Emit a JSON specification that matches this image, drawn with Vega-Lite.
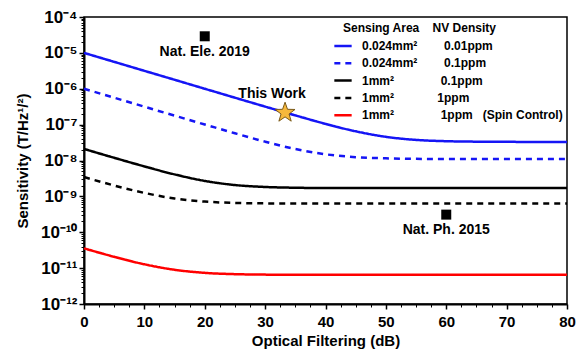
{
  "$schema": "https://vega.github.io/schema/vega-lite/v6.json",
  "width": 483,
  "height": 287,
  "autosize": "none",
  "padding": {"left": 84, "top": 17, "right": 16, "bottom": 48},
  "background": "white",
  "config": {
    "font": "Liberation Sans",
    "view": {"stroke": "black", "strokeWidth": 1.5}
  },
  "datasets": {
    "curves": [
      {"series": "0.024mm² / 0.01ppm", "x": 0, "y": 1.0e-5},
      {"series": "0.024mm² / 0.01ppm", "x": 5, "y": 5.62e-6},
      {"series": "0.024mm² / 0.01ppm", "x": 10, "y": 3.16e-6},
      {"series": "0.024mm² / 0.01ppm", "x": 15, "y": 1.78e-6},
      {"series": "0.024mm² / 0.01ppm", "x": 20, "y": 1.0e-6},
      {"series": "0.024mm² / 0.01ppm", "x": 25, "y": 5.63e-7},
      {"series": "0.024mm² / 0.01ppm", "x": 30, "y": 3.18e-7},
      {"series": "0.024mm² / 0.01ppm", "x": 35, "y": 1.81e-7},
      {"series": "0.024mm² / 0.01ppm", "x": 40, "y": 1.05e-7},
      {"series": "0.024mm² / 0.01ppm", "x": 45, "y": 6.52e-8},
      {"series": "0.024mm² / 0.01ppm", "x": 50, "y": 4.57e-8},
      {"series": "0.024mm² / 0.01ppm", "x": 55, "y": 3.75e-8},
      {"series": "0.024mm² / 0.01ppm", "x": 60, "y": 3.45e-8},
      {"series": "0.024mm² / 0.01ppm", "x": 65, "y": 3.35e-8},
      {"series": "0.024mm² / 0.01ppm", "x": 70, "y": 3.31e-8},
      {"series": "0.024mm² / 0.01ppm", "x": 75, "y": 3.3e-8},
      {"series": "0.024mm² / 0.01ppm", "x": 80, "y": 3.3e-8},

      {"series": "0.024mm² / 0.1ppm", "x": 0, "y": 1.0e-6},
      {"series": "0.024mm² / 0.1ppm", "x": 5, "y": 5.62e-7},
      {"series": "0.024mm² / 0.1ppm", "x": 10, "y": 3.16e-7},
      {"series": "0.024mm² / 0.1ppm", "x": 15, "y": 1.78e-7},
      {"series": "0.024mm² / 0.1ppm", "x": 20, "y": 1.01e-7},
      {"series": "0.024mm² / 0.1ppm", "x": 25, "y": 5.73e-8},
      {"series": "0.024mm² / 0.1ppm", "x": 30, "y": 3.35e-8},
      {"series": "0.024mm² / 0.1ppm", "x": 35, "y": 2.09e-8},
      {"series": "0.024mm² / 0.1ppm", "x": 40, "y": 1.49e-8},
      {"series": "0.024mm² / 0.1ppm", "x": 45, "y": 1.24e-8},
      {"series": "0.024mm² / 0.1ppm", "x": 50, "y": 1.15e-8},
      {"series": "0.024mm² / 0.1ppm", "x": 55, "y": 1.11e-8},
      {"series": "0.024mm² / 0.1ppm", "x": 60, "y": 1.1e-8},
      {"series": "0.024mm² / 0.1ppm", "x": 70, "y": 1.1e-8},
      {"series": "0.024mm² / 0.1ppm", "x": 80, "y": 1.1e-8},

      {"series": "1mm² / 0.1ppm", "x": 0, "y": 2.1e-8},
      {"series": "1mm² / 0.1ppm", "x": 5, "y": 1.19e-8},
      {"series": "1mm² / 0.1ppm", "x": 10, "y": 6.85e-9},
      {"series": "1mm² / 0.1ppm", "x": 15, "y": 4.1e-9},
      {"series": "1mm² / 0.1ppm", "x": 20, "y": 2.7e-9},
      {"series": "1mm² / 0.1ppm", "x": 25, "y": 2.07e-9},
      {"series": "1mm² / 0.1ppm", "x": 30, "y": 1.83e-9},
      {"series": "1mm² / 0.1ppm", "x": 35, "y": 1.74e-9},
      {"series": "1mm² / 0.1ppm", "x": 40, "y": 1.71e-9},
      {"series": "1mm² / 0.1ppm", "x": 50, "y": 1.7e-9},
      {"series": "1mm² / 0.1ppm", "x": 60, "y": 1.7e-9},
      {"series": "1mm² / 0.1ppm", "x": 70, "y": 1.7e-9},
      {"series": "1mm² / 0.1ppm", "x": 80, "y": 1.7e-9},

      {"series": "1mm² / 1ppm", "x": 0, "y": 3.46e-9},
      {"series": "1mm² / 1ppm", "x": 5, "y": 2.01e-9},
      {"series": "1mm² / 1ppm", "x": 10, "y": 1.25e-9},
      {"series": "1mm² / 1ppm", "x": 15, "y": 8.73e-10},
      {"series": "1mm² / 1ppm", "x": 20, "y": 7.16e-10},
      {"series": "1mm² / 1ppm", "x": 25, "y": 6.58e-10},
      {"series": "1mm² / 1ppm", "x": 30, "y": 6.39e-10},
      {"series": "1mm² / 1ppm", "x": 35, "y": 6.33e-10},
      {"series": "1mm² / 1ppm", "x": 40, "y": 6.31e-10},
      {"series": "1mm² / 1ppm", "x": 50, "y": 6.3e-10},
      {"series": "1mm² / 1ppm", "x": 60, "y": 6.3e-10},
      {"series": "1mm² / 1ppm", "x": 70, "y": 6.3e-10},
      {"series": "1mm² / 1ppm", "x": 80, "y": 6.3e-10},

      {"series": "1mm² / 1ppm (Spin Control)", "x": 0, "y": 3.56e-11},
      {"series": "1mm² / 1ppm (Spin Control)", "x": 5, "y": 2.07e-11},
      {"series": "1mm² / 1ppm (Spin Control)", "x": 10, "y": 1.28e-11},
      {"series": "1mm² / 1ppm (Spin Control)", "x": 15, "y": 9.0e-12},
      {"series": "1mm² / 1ppm (Spin Control)", "x": 20, "y": 7.38e-12},
      {"series": "1mm² / 1ppm (Spin Control)", "x": 25, "y": 6.79e-12},
      {"series": "1mm² / 1ppm (Spin Control)", "x": 30, "y": 6.59e-12},
      {"series": "1mm² / 1ppm (Spin Control)", "x": 35, "y": 6.53e-12},
      {"series": "1mm² / 1ppm (Spin Control)", "x": 40, "y": 6.51e-12},
      {"series": "1mm² / 1ppm (Spin Control)", "x": 50, "y": 6.5e-12},
      {"series": "1mm² / 1ppm (Spin Control)", "x": 60, "y": 6.5e-12},
      {"series": "1mm² / 1ppm (Spin Control)", "x": 70, "y": 6.5e-12},
      {"series": "1mm² / 1ppm (Spin Control)", "x": 80, "y": 6.5e-12}
    ],
    "refs": [
      {"label": "Nat. Ele. 2019", "x": 20, "y": 2.9e-5, "kind": "ref"},
      {"label": "Nat. Ph. 2015", "x": 60, "y": 3.1e-10, "kind": "ref"},
      {"label": "This Work", "x": 33.3, "y": 2.15e-7, "kind": "this"}
    ]
  },
  "resolve": {"axis": {"x": "independent", "y": "independent"}},
  "layer": [
    {
      "data": {"name": "curves"},
      "mark": {"type": "line", "strokeWidth": 2.5, "interpolate": "monotone"},
      "encoding": {
        "x": {
          "field": "x",
          "type": "quantitative",
          "scale": {"domain": [0, 80], "nice": false, "zero": false},
          "axis": {
            "orient": "bottom",
            "values": [0, 10, 20, 30, 40, 50, 60, 70, 80],
            "grid": false,
            "domainColor": "black",
            "domainWidth": 2,
            "tickColor": "black",
            "tickWidth": 1.5,
            "tickSize": 5,
            "labelFontSize": 15,
            "labelFontWeight": "bold",
            "labelColor": "black",
            "labelPadding": 5,
            "labelFlush": false,
            "labelOverlap": false,
            "title": "Optical Filtering (dB)",
            "titleFontSize": 15,
            "titleFontWeight": "bold",
            "titleColor": "black",
            "titlePadding": 4
          }
        },
        "y": {
          "field": "y",
          "type": "quantitative",
          "scale": {"type": "log", "domain": [1e-12, 1e-4], "nice": false},
          "axis": {
            "orient": "left",
            "values": [1e-12, 1e-11, 1e-10, 1e-9, 1e-8, 1e-7, 1e-6, 1e-5, 1e-4],
            "labelExpr": "'10' + ['⁻¹²', '⁻¹¹', '⁻¹⁰', '⁻⁹', '⁻⁸', '⁻⁷', '⁻⁶', '⁻⁵', '⁻⁴'][round(log(datum.value) / LN10) + 12]",
            "grid": false,
            "domainColor": "black",
            "domainWidth": 2,
            "tickColor": "black",
            "tickWidth": 1.5,
            "tickSize": 5,
            "labelFontSize": 17,
            "labelFontWeight": "bold",
            "labelColor": "black",
            "labelPadding": 2,
            "labelOverlap": false,
            "labelFlush": false,
            "title": "Sensitivity (T/Hz¹/²)",
            "titleFontSize": 15,
            "titleFontWeight": "bold",
            "titleColor": "black",
            "titlePadding": 10
          }
        },
        "color": {
          "field": "series",
          "type": "nominal",
          "scale": {
            "domain": ["0.024mm² / 0.01ppm", "0.024mm² / 0.1ppm", "1mm² / 0.1ppm", "1mm² / 1ppm", "1mm² / 1ppm (Spin Control)"],
            "range": ["#1515F5", "#1515F5", "#000000", "#000000", "#FF0000"]
          },
          "legend": {
            "orient": "none",
            "legendX": 249,
            "legendY": 6,
            "title": "\u200b\u00a0\u00a0\u00a0Sensing Area\u00a0\u00a0\u00a0\u00a0NV Density",
            "titleFontSize": 12,
            "titleFontWeight": "bold",
            "titleColor": "black",
            "titleLimit": 300,
            "titlePadding": 1,
            "labelFontSize": 12,
            "labelFontWeight": "bold",
            "labelColor": "black",
            "labelLimit": 300,
            "labelOffset": 9,
            "symbolType": "stroke",
            "symbolSize": 300,
            "symbolStrokeWidth": 2.5,
            "rowPadding": 1.3,
            "labelExpr": "datum.value == '0.024mm² / 0.01ppm' ? '0.024mm²\u00a0\u00a0\u00a0\u00a0\u00a0\u00a0\u00a0\u00a00.01ppm' : datum.value == '0.024mm² / 0.1ppm' ? '0.024mm²\u00a0\u00a0\u00a0\u00a0\u00a0\u00a0\u00a0\u00a00.1ppm' : datum.value == '1mm² / 0.1ppm' ? '1mm²\u00a0\u00a0\u00a0\u00a0\u00a0\u00a0\u00a0\u00a0\u00a0\u00a0\u00a0\u00a0\u00a0\u00a00.1ppm' : datum.value == '1mm² / 1ppm' ? '1mm²\u00a0\u00a0\u00a0\u00a0\u00a0\u00a0\u00a0\u00a0\u00a0\u00a0\u00a0\u00a0\u00a01ppm' : '1mm²\u00a0\u00a0\u00a0\u00a0\u00a0\u00a0\u00a0\u00a0\u00a0\u00a0\u00a0\u00a0\u00a0\u00a01ppm\u00a0\u00a0\u00a0(Spin Control)'"
          }
        },
        "strokeDash": {
          "field": "series",
          "type": "nominal",
          "scale": {
            "domain": ["0.024mm² / 0.01ppm", "0.024mm² / 0.1ppm", "1mm² / 0.1ppm", "1mm² / 1ppm", "1mm² / 1ppm (Spin Control)"],
            "range": [[1, 0], [6, 5], [1, 0], [6, 5], [1, 0]]
          },
          "legend": {
            "orient": "none",
            "legendX": 249,
            "legendY": 6,
            "title": "\u200b\u00a0\u00a0\u00a0Sensing Area\u00a0\u00a0\u00a0\u00a0NV Density",
            "titleFontSize": 12,
            "titleFontWeight": "bold",
            "titleColor": "black",
            "titleLimit": 300,
            "titlePadding": 1,
            "labelFontSize": 12,
            "labelFontWeight": "bold",
            "labelColor": "black",
            "labelLimit": 300,
            "labelOffset": 9,
            "symbolType": "stroke",
            "symbolSize": 300,
            "symbolStrokeWidth": 2.5,
            "rowPadding": 1.3,
            "labelExpr": "datum.value == '0.024mm² / 0.01ppm' ? '0.024mm²\u00a0\u00a0\u00a0\u00a0\u00a0\u00a0\u00a0\u00a00.01ppm' : datum.value == '0.024mm² / 0.1ppm' ? '0.024mm²\u00a0\u00a0\u00a0\u00a0\u00a0\u00a0\u00a0\u00a00.1ppm' : datum.value == '1mm² / 0.1ppm' ? '1mm²\u00a0\u00a0\u00a0\u00a0\u00a0\u00a0\u00a0\u00a0\u00a0\u00a0\u00a0\u00a0\u00a0\u00a00.1ppm' : datum.value == '1mm² / 1ppm' ? '1mm²\u00a0\u00a0\u00a0\u00a0\u00a0\u00a0\u00a0\u00a0\u00a0\u00a0\u00a0\u00a0\u00a01ppm' : '1mm²\u00a0\u00a0\u00a0\u00a0\u00a0\u00a0\u00a0\u00a0\u00a0\u00a0\u00a0\u00a0\u00a0\u00a01ppm\u00a0\u00a0\u00a0(Spin Control)'"
          }
        }
      }
    },
    {
      "data": {"name": "refs"},
      "transform": [{"filter": "datum.kind == 'ref'"}],
      "mark": {"type": "square", "size": 100, "color": "black", "opacity": 1},
      "encoding": {
        "x": {
          "field": "x",
          "type": "quantitative",
          "axis": {
            "orient": "bottom",
            "values": [2.5, 5, 7.5, 12.5, 15, 17.5, 22.5, 25, 27.5, 32.5, 35, 37.5, 42.5, 45, 47.5, 52.5, 55, 57.5, 62.5, 65, 67.5, 72.5, 75, 77.5],
            "labels": false,
            "domain": false,
            "grid": false,
            "title": null,
            "tickColor": "black",
            "tickWidth": 1,
            "tickSize": 3
          }
        },
        "y": {
          "field": "y",
          "type": "quantitative",
          "axis": {
            "orient": "left",
            "values": [2e-12, 3e-12, 4e-12, 5e-12, 6e-12, 7e-12, 8e-12, 9e-12,
                       2e-11, 3e-11, 4e-11, 5e-11, 6e-11, 7e-11, 8e-11, 9e-11,
                       2e-10, 3e-10, 4e-10, 5e-10, 6e-10, 7e-10, 8e-10, 9e-10,
                       2e-9, 3e-9, 4e-9, 5e-9, 6e-9, 7e-9, 8e-9, 9e-9,
                       2e-8, 3e-8, 4e-8, 5e-8, 6e-8, 7e-8, 8e-8, 9e-8,
                       2e-7, 3e-7, 4e-7, 5e-7, 6e-7, 7e-7, 8e-7, 9e-7,
                       2e-6, 3e-6, 4e-6, 5e-6, 6e-6, 7e-6, 8e-6, 9e-6,
                       2e-5, 3e-5, 4e-5, 5e-5, 6e-5, 7e-5, 8e-5, 9e-5],
            "labels": false,
            "domain": false,
            "grid": false,
            "title": null,
            "tickColor": "black",
            "tickWidth": 1,
            "tickSize": 3
          }
        }
      }
    },
    {
      "data": {"name": "refs"},
      "transform": [{"filter": "datum.kind == 'ref'"}],
      "mark": {"type": "text", "dy": 19.5, "baseline": "alphabetic", "align": "center", "fontSize": 14, "fontWeight": "bold", "color": "black"},
      "encoding": {
        "x": {"field": "x", "type": "quantitative", "axis": null},
        "y": {"field": "y", "type": "quantitative", "axis": null},
        "text": {"field": "label"}
      }
    },
    {
      "data": {"name": "refs"},
      "transform": [{"filter": "datum.kind == 'this'"}],
      "mark": {
        "type": "point",
        "shape": "M0,-1L0.2351,-0.3236L0.9511,-0.309L0.3804,0.1236L0.5878,0.809L0,0.4L-0.5878,0.809L-0.3804,0.1236L-0.9511,-0.309L-0.2351,-0.3236Z",
        "size": 440,
        "filled": true,
        "fill": "#F6B83C",
        "stroke": "#7A5A1A",
        "strokeWidth": 1,
        "opacity": 1
      },
      "encoding": {
        "x": {"field": "x", "type": "quantitative", "axis": null},
        "y": {"field": "y", "type": "quantitative", "axis": null}
      }
    },
    {
      "data": {"name": "refs"},
      "transform": [{"filter": "datum.kind == 'this'"}],
      "mark": {"type": "text", "dx": -13, "dy": -15, "baseline": "alphabetic", "align": "center", "fontSize": 14, "fontWeight": "bold", "color": "black"},
      "encoding": {
        "x": {"field": "x", "type": "quantitative", "axis": null},
        "y": {"field": "y", "type": "quantitative", "axis": null},
        "text": {"field": "label"}
      }
    }
  ]
}
